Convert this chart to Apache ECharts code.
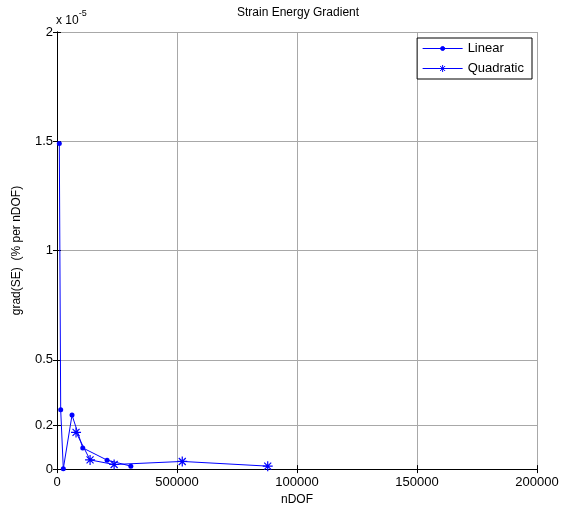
<!DOCTYPE html>
<html>
<head>
<meta charset="utf-8">
<script src="https://cdn.jsdelivr.net/npm/echarts@6/dist/echarts.min.js"></script>
<style>
  html, body { margin: 0; padding: 0; background: #fff; }
  #chart { width: 564px; height: 511px; }
</style>
</head>
<body>
<div id="chart"></div>
<script>
  // values in units of 1e-5
  var linearX = [960, 1540, 2630, 6260, 10730, 20880, 30770]
  var linearY = [1.49, 0.271, 0.002, 0.247, 0.097, 0.041, 0.0136]
  var quadX = [7930, 13780, 23800, 52190, 87800]
  var quadY = [0.168, 0.042, 0.021, 0.035, 0.0136]

  var xTickLabels = ['0', '500000', '100000', '150000', '200000']
  var yTickValues = [0, 0.2, 0.5, 1, 1.5, 2]

  var font = 'Liberation Sans, Arial, sans-serif'
  var blue = '#0000ff'
  var asterisk = 'path://M5,0 L5,10 M0,5 L10,5 M1.5,1.5 L8.5,8.5 M1.5,8.5 L8.5,1.5'
  // legend icons: line with marker
  var linearIcon = 'path://M0,2 L40,2 M22,2 A2,2 0 1 1 18,2 A2,2 0 1 1 22,2 Z'
  var quadIcon = 'path://M0,3.5 L40,3.5 M20,0 L20,7 M16.5,3.5 L23.5,3.5 M17.5,1 L22.5,6 M17.5,6 L22.5,1'

  function pairs (xs, ys) {
    return xs.map(function (x, i) { return [x, ys[i]] })
  }

  var chart = echarts.init(document.getElementById('chart'))

  var boxAxis = {
    axisLine: { show: true, lineStyle: { color: '#000', width: 1 } },
    axisTick: { show: true, inside: true, length: 4, lineStyle: { color: '#000' } },
    axisLabel: { show: false },
    splitLine: { show: false }
  }

  var option = {
    animation: false,
    backgroundColor: '#fff',
    textStyle: { fontFamily: font },
    grid: { left: 57, right: 27, top: 32, bottom: 39 },
    graphic: [{
      type: 'text',
      left: 297 - 60,
      top: 7,
      style: { text: 'Strain Energy Gradient', font: '12px ' + font, fill: '#000', width: 120, align: 'center' }
    }, {
      type: 'text',
      left: 56,
      top: 9,
      style: {
        text: '{b|x 10}{s|-5}',
        fill: '#000',
        rich: {
          b: { fontSize: 12, fontFamily: font, padding: [6, 0, 0, 0] },
          s: { fontSize: 9, fontFamily: font, verticalAlign: 'top' }
        }
      }
    }],
    legend: {
      orient: 'vertical',
      right: 32,
      top: 38,
      padding: [4, 8, 4, 5],
      itemGap: 7,
      itemWidth: 40,
      itemHeight: 7,
      symbolKeepAspect: true,
      backgroundColor: '#fff',
      borderColor: '#000',
      borderWidth: 1,
      borderRadius: 0,
      textStyle: { fontSize: 13, fontFamily: font, color: '#000' },
      data: [
        { name: 'Linear', icon: linearIcon, itemStyle: { color: blue, borderColor: blue, borderWidth: 1 } },
        { name: 'Quadratic', icon: quadIcon, itemStyle: { color: 'rgba(0,0,0,0)', borderColor: blue, borderWidth: 1 } }
      ]
    },
    xAxis: [{
      type: 'value',
      min: 0,
      max: 200000,
      interval: 50000,
      name: 'nDOF',
      nameLocation: 'middle',
      nameGap: 24,
      nameTextStyle: { fontSize: 12, color: '#000', fontFamily: font },
      axisLine: { show: true, lineStyle: { color: '#000', width: 1 } },
      axisTick: { show: true, inside: true, length: 4, lineStyle: { color: '#000' } },
      axisLabel: {
        color: '#000',
        fontSize: 13,
        fontFamily: font,
        margin: 7,
        formatter: function (v) { return xTickLabels[Math.round(v / 50000)] }
      },
      splitLine: { show: true, lineStyle: { color: '#a8a8a8', width: 1 } }
    }, Object.assign({
      type: 'value',
      position: 'top',
      min: 0,
      max: 200000,
      interval: 50000
    }, boxAxis)],
    yAxis: [{
      type: 'value',
      min: 0,
      max: 2,
      name: 'grad(SE)  (% per nDOF)',
      nameLocation: 'middle',
      nameGap: 34,
      nameTextStyle: { fontSize: 12, color: '#000', fontFamily: font },
      axisLine: { show: true, lineStyle: { color: '#000', width: 1 } },
      axisTick: { show: true, inside: true, length: 4, customValues: yTickValues, lineStyle: { color: '#000' } },
      axisLabel: { color: '#000', fontSize: 13, fontFamily: font, margin: 4, customValues: yTickValues },
      splitLine: { show: true, lineStyle: { color: '#a8a8a8', width: 1 } }
    }, Object.assign({}, boxAxis, {
      type: 'value',
      position: 'right',
      min: 0,
      max: 2,
      axisTick: { show: true, inside: true, length: 4, customValues: yTickValues, lineStyle: { color: '#000' } },
      axisLabel: { show: false, customValues: yTickValues }
    })],
    series: [{
      name: 'Linear',
      type: 'line',
      data: pairs(linearX, linearY),
      symbol: 'circle',
      symbolSize: 5,
      showAllSymbol: true,
      lineStyle: { color: blue, width: 1 },
      itemStyle: { color: blue }
    }, {
      name: 'Quadratic',
      type: 'line',
      data: pairs(quadX, quadY),
      symbol: asterisk,
      symbolSize: 10,
      showAllSymbol: true,
      lineStyle: { color: blue, width: 1 },
      itemStyle: { color: 'rgba(0,0,0,0)', borderColor: blue, borderWidth: 1.2 }
    }]
  }
  chart.setOption(option)
</script>
</body>
</html>
